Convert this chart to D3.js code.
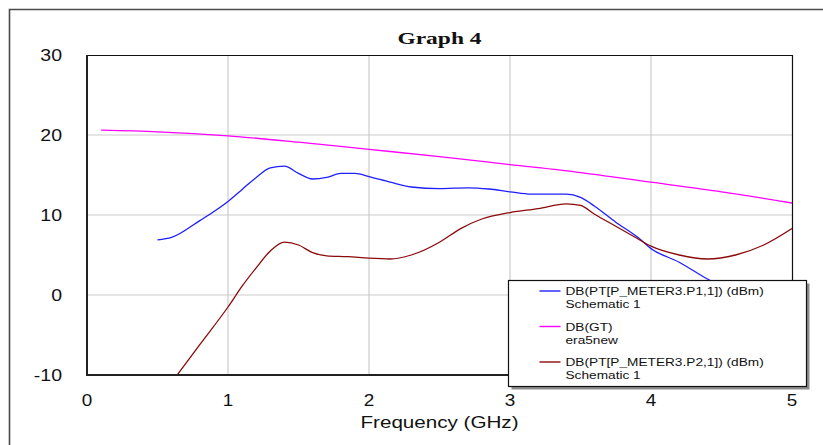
<!DOCTYPE html>
<html>
<head>
<meta charset="utf-8">
<script src="https://cdn.jsdelivr.net/npm/d3@7"></script>
<style>
  html, body { margin: 0; padding: 0; background: #fff; }
  svg { display: block; }
  text { font-family: "Liberation Sans", Arial, sans-serif; fill: #111; }
</style>
</head>
<body>
<svg id="chart" width="823" height="445"></svg>
<script>
// Axis ticks
const xTicks = [0, 1, 2, 3, 4, 5];
const yTicks = [-10, 0, 10, 20, 30];

// DB(GT) – era5new
const gtFreq = [0.1, 0.5, 1.0, 1.5, 2.0, 2.5, 3.0, 3.5, 4.0, 4.5, 5.0];
const gtDb   = [20.6, 20.4, 19.9, 19.1, 18.2, 17.3, 16.3, 15.3, 14.1, 12.9, 11.5];

// DB(PT[P_METER3.P1,1]) – Schematic 1
const p1Freq = [0.5, 0.6, 0.8, 1.0, 1.1, 1.2, 1.3, 1.4, 1.5, 1.6, 1.7, 1.8, 1.9, 2.0, 2.15, 2.3, 2.5, 2.7, 2.85, 3.0, 3.15, 3.3, 3.4, 3.5, 3.6, 3.75, 3.9, 4.0, 4.2, 4.4, 4.6, 4.8, 5.0];
const p1Dbm  = [6.9, 7.2, 9.3, 11.7, 13.2, 14.7, 15.9, 16.1, 15.2, 14.5, 14.7, 15.2, 15.2, 14.8, 14.1, 13.5, 13.3, 13.4, 13.25, 12.9, 12.6, 12.6, 12.6, 12.2, 11.1, 9.1, 7.3, 5.8, 4.1, 2.0, 0.4, -1.0, -2.2];

// DB(PT[P_METER3.P2,1]) – Schematic 1
const p2Freq = [0.5, 0.8, 1.0, 1.1, 1.2, 1.3, 1.4, 1.5, 1.6, 1.7, 1.85, 2.0, 2.15, 2.3, 2.5, 2.65, 2.8, 3.0, 3.2, 3.4, 3.5, 3.6, 3.75, 3.9, 4.0, 4.2, 4.4, 4.6, 4.8, 5.0];
const p2Dbm  = [-13.3, -6.2, -1.5, 1.1, 3.4, 5.5, 6.6, 6.25, 5.3, 4.9, 4.8, 4.6, 4.5, 5.0, 6.6, 8.3, 9.5, 10.3, 10.8, 11.4, 11.2, 10.1, 8.6, 7.1, 6.1, 5.0, 4.5, 5.0, 6.25, 8.3];

const seriesNames   = ["DB(PT[P_METER3.P1,1]) (dBm)", "DB(GT)", "DB(PT[P_METER3.P2,1]) (dBm)"];
const seriesSources = ["Schematic 1", "era5new", "Schematic 1"];
const seriesColors  = ["#1f1fff", "#ff00ff", "#8b0a0a"];

const svg = d3.select("#chart");
const W = 823, H = 445;
const margin = { left: 87, top: 55, right: W - 792, bottom: H - 375 };
const pw = W - margin.left - margin.right;
const ph = H - margin.top - margin.bottom;

const x = d3.scaleLinear().domain([0, 5]).range([margin.left, margin.left + pw]);
const y = d3.scaleLinear().domain([-10, 30]).range([margin.top + ph, margin.top]);

// horizontally widened text, as in the original plot export
function stretchedText(sel, tx, ty, sx) {
  return sel.append("text").attr("transform", `translate(${tx},${ty}) scale(${sx},1)`);
}

// outer frame
svg.append("path")
  .attr("d", `M9.5,${H} L9.5,9.5 L${W},9.5`)
  .attr("fill", "none").attr("stroke", "#4a4a4a").attr("stroke-width", 1.6);

// title
stretchedText(svg, (margin.left + margin.left + pw) / 2, 43.5, 1.38)
  .attr("text-anchor", "middle")
  .style("font-family", "'Liberation Serif', 'Times New Roman', serif")
  .style("font-weight", "bold").style("font-size", "17px")
  .text("Graph 4");

// grid
const grid = svg.append("g");
grid.selectAll("line.gx").data(xTicks.slice(1, -1)).join("line")
  .attr("x1", d => x(d)).attr("x2", d => x(d))
  .attr("y1", margin.top).attr("y2", margin.top + ph)
  .attr("stroke", "#cbcbcb").attr("stroke-width", 1.2);
grid.selectAll("line.gy").data(yTicks.slice(1, -1)).join("line")
  .attr("x1", margin.left).attr("x2", margin.left + pw)
  .attr("y1", d => y(d)).attr("y2", d => y(d))
  .attr("stroke", "#cbcbcb").attr("stroke-width", 1.2);

// clip for curves
svg.append("clipPath").attr("id", "plotclip")
  .append("rect").attr("x", margin.left).attr("y", margin.top).attr("width", pw).attr("height", ph);

const line = d3.line().x(d => x(d[0])).y(d => y(d[1])).curve(d3.curveMonotoneX);
const series = [
  d3.zip(p1Freq, p1Dbm),
  d3.zip(gtFreq, gtDb),
  d3.zip(p2Freq, p2Dbm)
];
const curves = svg.append("g").attr("clip-path", "url(#plotclip)");
curves.selectAll("path").data(series).join("path")
  .attr("d", line)
  .attr("fill", "none")
  .attr("stroke", (d, i) => seriesColors[i])
  .attr("stroke-width", 1.3);

// plot border: heavier left and bottom axes
svg.append("path")
  .attr("d", `M${margin.left},${margin.top + 0.5} L${margin.left + pw + 0.5},${margin.top + 0.5} L${margin.left + pw + 0.5},${margin.top + ph}`)
  .attr("fill", "none").attr("stroke", "#111").attr("stroke-width", 1.2);
svg.append("path")
  .attr("d", `M${margin.left},${margin.top} L${margin.left},${margin.top + ph} L${margin.left + pw + 1},${margin.top + ph}`)
  .attr("fill", "none").attr("stroke", "#222").attr("stroke-width", 2);

// tick labels
const yl = svg.append("g");
yTicks.forEach(t => {
  stretchedText(yl, 62, y(t) + 6, 1.22)
    .attr("text-anchor", "end").style("font-size", "16px").text(t);
});
const xl = svg.append("g");
xTicks.forEach(t => {
  stretchedText(xl, x(t), 406, 1.18)
    .attr("text-anchor", "middle").style("font-size", "16px").text(t);
});

// axis title
stretchedText(svg, (margin.left + margin.left + pw) / 2, 428, 1.25)
  .attr("text-anchor", "middle").style("font-size", "16.5px")
  .text("Frequency (GHz)");

// legend
const lg = { x: 508.5, y: 280.5, w: 298, h: 106 };
const legend = svg.append("g");
legend.append("rect")
  .attr("x", lg.x + 3).attr("y", lg.y + 3).attr("width", lg.w).attr("height", lg.h)
  .attr("fill", "#8c8c8c");
legend.append("rect")
  .attr("x", lg.x).attr("y", lg.y).attr("width", lg.w).attr("height", lg.h)
  .attr("fill", "#fff").attr("stroke", "#111").attr("stroke-width", 1.2);
seriesNames.forEach((name, i) => {
  const rowY = lg.y + 10.5 + i * 35.5;
  legend.append("line")
    .attr("x1", lg.x + 31).attr("x2", lg.x + 52)
    .attr("y1", rowY).attr("y2", rowY)
    .attr("stroke", seriesColors[i]).attr("stroke-width", 1.4);
  stretchedText(legend, lg.x + 57, rowY + 4, 1.19)
    .style("font-size", "11.5px").text(name);
  stretchedText(legend, lg.x + 57, rowY + 17, 1.19)
    .style("font-size", "11.5px").text(seriesSources[i]);
});
</script>
</body>
</html>
